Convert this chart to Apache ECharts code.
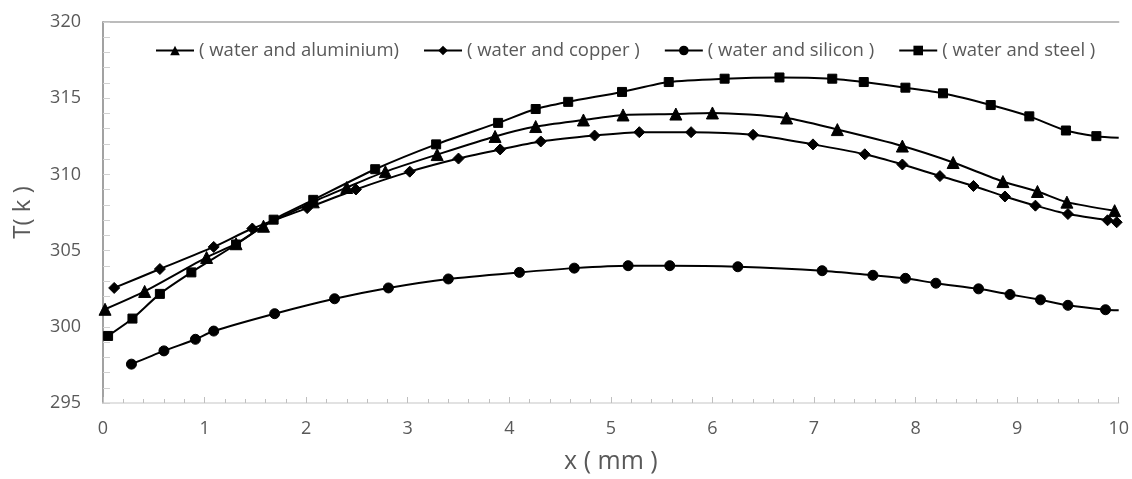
<!DOCTYPE html>
<html>
<head>
<meta charset="utf-8">
<script src="https://cdn.jsdelivr.net/npm/echarts@6/dist/echarts.min.js"></script>
<style>
  html, body { margin: 0; padding: 0; background: #fff; }
  #chart { width: 1132px; height: 479px; }
</style>
</head>
<body>
<div id="chart"></div>
<script>
// Temperature profiles T(k) along x (mm) for four water / wall-material pairs
const seriesNames = [
  '( water and aluminium)',
  '( water and copper )',
  '( water and silicon )',
  '( water and steel )'
];

const aluminiumX = [0.02, 0.41, 1.02, 1.31, 1.58, 2.07, 2.40, 2.78, 3.29, 3.86, 4.26, 4.73, 5.12, 5.64, 6.00, 6.73, 7.23, 7.87, 8.37, 8.86, 9.20, 9.49, 9.96];
const aluminiumT = [301.15, 302.32, 304.55, 305.45, 306.6, 308.2, 309.14, 310.18, 311.30, 312.49, 313.14, 313.57, 313.90, 313.96, 314.03, 313.70, 312.94, 311.86, 310.78, 309.53, 308.88, 308.18, 307.62];

const copperX = [0.11, 0.56, 1.09, 1.47, 2.01, 2.49, 3.02, 3.50, 3.91, 4.31, 4.84, 5.28, 5.79, 6.40, 6.99, 7.50, 7.87, 8.24, 8.57, 8.88, 9.18, 9.50, 9.89, 9.98];
const copperT = [302.55, 303.79, 305.24, 306.45, 307.79, 309.01, 310.18, 311.04, 311.64, 312.16, 312.55, 312.77, 312.77, 312.60, 311.97, 311.32, 310.65, 309.89, 309.24, 308.55, 307.95, 307.40, 306.99, 306.86];

const siliconX = [0.28, 0.60, 0.91, 1.09, 1.69, 2.28, 2.81, 3.40, 4.10, 4.64, 5.17, 5.58, 6.25, 7.08, 7.58, 7.90, 8.20, 8.62, 8.93, 9.23, 9.50, 9.87, 10.0];
const siliconT = [297.55, 298.42, 299.18, 299.72, 300.86, 301.84, 302.55, 303.14, 303.57, 303.85, 304.01, 304.01, 303.94, 303.68, 303.38, 303.18, 302.86, 302.49, 302.12, 301.77, 301.41, 301.12, 301.08];

const steelX = [0.05, 0.29, 0.56, 0.87, 1.31, 1.68, 2.07, 2.68, 3.28, 3.89, 4.26, 4.58, 5.11, 5.57, 6.12, 6.66, 7.18, 7.49, 7.90, 8.27, 8.74, 9.12, 9.48, 9.78, 10.0];
const steelT = [299.4, 300.54, 302.16, 303.57, 305.4, 307.03, 308.33, 310.34, 311.97, 313.38, 314.29, 314.76, 315.41, 316.06, 316.28, 316.36, 316.28, 316.06, 315.69, 315.32, 314.55, 313.81, 312.88, 312.51, 312.40];

const xTicks = [0, 1, 2, 3, 4, 5, 6, 7, 8, 9, 10];
const yTicks = [295, 300, 305, 310, 315, 320];

// Lines that run on to the right-hand frame without a marker at their last point
const runsToFrame = ['( water and silicon )', '( water and steel )'];

const markers = ['triangle', 'diamond', 'circle', 'rect'];
const markerSizes = [12, 11, 10, 9];

const pointSets = [
  [aluminiumX, aluminiumT],
  [copperX, copperT],
  [siliconX, siliconT],
  [steelX, steelT]
];

const labelColor = '#595959';
const fontFamily = '"Open Sans", "Noto Sans", sans-serif';

const series = seriesNames.map((name, i) => {
  const [xs, ts] = pointSets[i];
  const data = xs.map((x, k) => {
    const item = { value: [x, ts[k]] };
    if (k === xs.length - 1 && runsToFrame.includes(name)) {
      item.symbolSize = 0;
    }
    return item;
  });
  return {
    name,
    type: 'line',
    data,
    smooth: 0.25,
    symbol: markers[i],
    symbolSize: markerSizes[i],
    showAllSymbol: true,
    lineStyle: { color: '#000', width: 2 },
    itemStyle: { color: '#000', borderColor: '#000' },
    clip: false,
    z: 3
  };
});

const chart = echarts.init(document.getElementById('chart'), null, { renderer: 'canvas' });

chart.setOption({
  animation: false,
  backgroundColor: '#fff',
  textStyle: { fontFamily },
  grid: { left: 103, right: 13, top: 22, bottom: 72, containLabel: false },
  legend: {
    data: seriesNames,
    top: 36,
    left: 150,
    itemWidth: 38,
    itemHeight: 12,
    itemGap: 24,
    textStyle: { color: labelColor, fontSize: 18.5, fontFamily }
  },
  xAxis: [
    {
      type: 'value',
      min: xTicks[0],
      max: xTicks[xTicks.length - 1],
      interval: 1,
      name: 'x ( mm )',
      nameLocation: 'middle',
      nameGap: 46,
      nameTextStyle: { color: labelColor, fontSize: 25, fontFamily },
      axisLine: { show: true, lineStyle: { color: '#d9d9d9', width: 1.5 } },
      axisTick: { show: true, inside: true, length: 6, lineStyle: { color: '#bfbfbf' } },
      minorTick: { show: true, splitNumber: 5, length: 4, lineStyle: { color: '#bfbfbf' } },
      axisLabel: { color: labelColor, fontSize: 18, margin: 17, fontFamily },
      splitLine: { show: false }
    },
    {
      type: 'value',
      position: 'top',
      min: xTicks[0],
      max: xTicks[xTicks.length - 1],
      axisLine: { show: true, lineStyle: { color: '#a6a6a6', width: 1.5 } },
      axisTick: { show: false },
      axisLabel: { show: false },
      splitLine: { show: false }
    }
  ],
  yAxis: [
    {
      type: 'value',
      min: yTicks[0],
      max: yTicks[yTicks.length - 1],
      interval: 5,
      name: 'T( k )',
      nameLocation: 'middle',
      nameGap: 68,
      nameRotate: 90,
      nameTextStyle: { color: labelColor, fontSize: 24, fontFamily },
      axisLine: { show: true, lineStyle: { color: '#d9d9d9', width: 1.5 } },
      axisTick: { show: true, inside: true, length: 7, lineStyle: { color: '#d0d0d0' } },
      minorTick: { show: true, splitNumber: 5, length: 7, lineStyle: { color: '#d0d0d0' } },
      axisLabel: { color: labelColor, fontSize: 18, margin: 22, fontFamily },
      splitLine: { show: false }
    },
    {
      type: 'value',
      position: 'right',
      min: yTicks[0],
      max: yTicks[yTicks.length - 1],
      axisLine: { show: true, lineStyle: { color: '#8c8c8c', width: 1.5 } },
      axisTick: { show: false },
      axisLabel: { show: false },
      splitLine: { show: false }
    }
  ],
  series
});
</script>
</body>
</html>
